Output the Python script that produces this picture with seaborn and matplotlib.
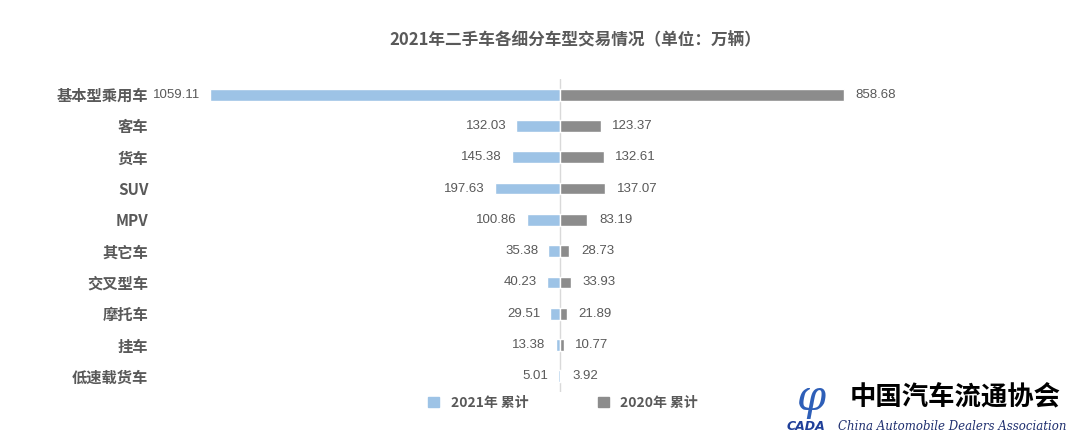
import numpy as np
import pandas as pd
import matplotlib.pyplot as plt
import seaborn as sns
from matplotlib.patches import Patch
from matplotlib import font_manager

categories = ["基本型乘用车", "客车", "货车", "SUV", "MPV", "其它车", "交叉型车", "摩托车", "挂车", "低速载货车"]
sales_2021 = [1059.11, 132.03, 145.38, 197.63, 100.86, 35.38, 40.23, 29.51, 13.38, 5.01]
sales_2020 = [858.68, 123.37, 132.61, 137.07, 83.19, 28.73, 33.93, 21.89, 10.77, 3.92]
legend_labels = ["2021年 累计", "2020年 累计"]
title = "2021年二手车各细分车型交易情况（单位：万辆）"

sns.set_style("white")
plt.rcParams['font.family'] = ['Noto Sans CJK SC', 'DejaVu Sans']

blue = "#9DC3E6"
grey = "#8C8C8C"
txt = "#595959"

# narrow face for the numbers if one is around
names = {f.name for f in font_manager.fontManager.ttflist}
num_font = [n for n in ['Liberation Sans Narrow', 'Liberation Sans'] if n in names] + ['DejaVu Sans']
num_size = 9.5

W, H = 1080, 443
fig = plt.figure(figsize=(W / 100, H / 100), dpi=100)
fig.patch.set_facecolor("white")

# axes in pixel coords: left 190, right 930, top 79, bottom 392
ax = fig.add_axes([190 / W, 1 - 392 / H, 740 / W, 313 / H])

df = pd.DataFrame({"cat": categories, "y2021": sales_2021, "y2020": sales_2020})
df["neg2021"] = -df["y2021"]

sns.barplot(data=df, x="neg2021", y="cat", orient="h", color=blue, width=0.38,
            saturation=1, ax=ax)
sns.barplot(data=df, x="y2020", y="cat", orient="h", color=grey, width=0.38,
            saturation=1, ax=ax)

ax.set_xlim(-1120, 1120)
ax.set_ylim(9.5, -0.5)
ax.axvline(0, color="#D9D9D9", lw=1, zorder=0)

for i, (a, b) in enumerate(zip(sales_2021, sales_2020)):
    ax.text(-a - 30, i, f"{a:.2f}", ha="right", va="center", fontsize=num_size,
            color=txt, family=num_font)
    ax.text(b + 35, i, f"{b:.2f}", ha="left", va="center", fontsize=num_size,
            color=txt, family=num_font)

ax.set_yticks(range(len(categories)))
ax.set_yticklabels(categories, fontsize=11, color=txt, fontweight="bold")
ax.tick_params(axis="y", length=0, pad=30)
ax.set_xticks([])
ax.set_xlabel("")
ax.set_ylabel("")
for s in ax.spines.values():
    s.set_visible(False)

fig.text(575 / W, 1 - 40 / H, title, ha="center", va="center", fontsize=12,
         color=txt, fontweight="bold")

handles = [Patch(color=blue), Patch(color=grey)]
fig.legend(handles, legend_labels, loc="center", bbox_to_anchor=(563 / W, 1 - 403 / H),
           ncol=2, frameon=False, handlelength=0.8, handleheight=0.8,
           columnspacing=5, labelcolor=txt, prop={"weight": "bold", "size": 10})

# association mark at bottom right
fig.text(850 / W, 1 - 397 / H, "中国汽车流通协会", ha="left", va="center",
         fontsize=19, color="black", fontweight="bold")
fig.text(787 / W, 1 - 427 / H, "CADA", ha="left", va="center", fontsize=9,
         color="#1F3F99", fontweight="heavy", style="italic", family="DejaVu Sans")
fig.text(838 / W, 1 - 427 / H, "China Automobile Dealers Association", ha="left",
         va="center", fontsize=8.5, color="#1F2F6F", style="italic", family="DejaVu Serif")
fig.text(812 / W, 1 - 398 / H, "φ", ha="center", va="center", fontsize=30,
         color="#2E5FB8", family="DejaVu Serif", style="italic")

fig.savefig("out.png", dpi=100)
